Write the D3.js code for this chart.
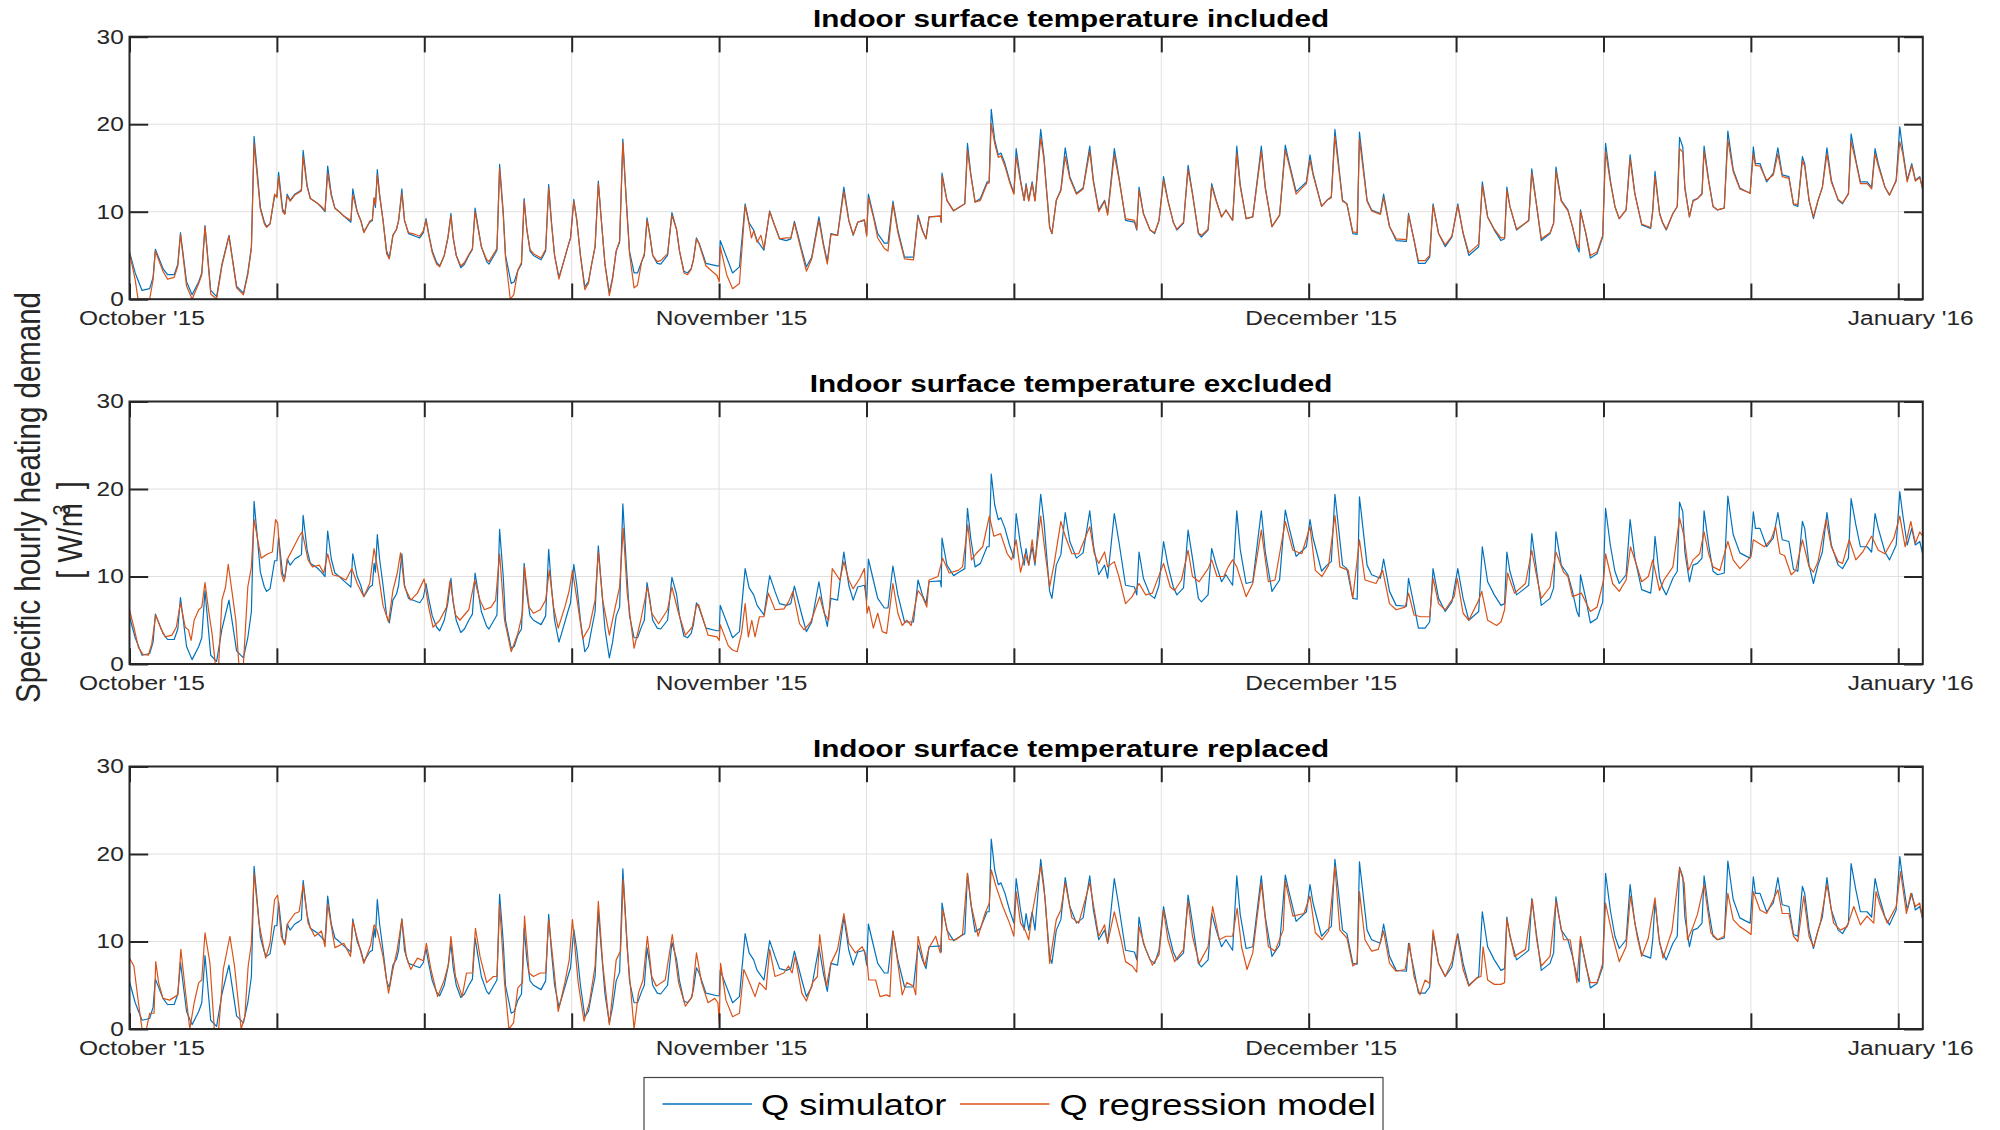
<!DOCTYPE html>
<html><head><meta charset="utf-8">
<script src="https://cdn.jsdelivr.net/npm/d3@7"></script>
<style>body{margin:0;background:#fff;} text{font-family:"Liberation Sans",Arial,Helvetica,sans-serif;}</style>
</head><body><svg id="c" width="2000" height="1130"></svg>
<script>
// ---- data: [day since 1 Oct 2015, W/m3] ----
const monthLabels = ["October '15", "November '15", "December '15", "January '16"];
const panelTitles = ["Indoor surface temperature included", "Indoor surface temperature excluded", "Indoor surface temperature replaced"];
const yTickValues = [0, 10, 20, 30];
const seriesNames = ["Q simulator", "Q regression model"];

const qSimulator = [[0.00,5.4],[0.30,3.0],[0.66,1.0],[1.06,1.2],[1.24,2.5],[1.36,5.7],[1.76,3.5],[2.00,2.8],[2.35,2.8],[2.54,4.0],[2.68,7.6],[3.00,2.0],[3.29,0.5],[3.64,2.0],[3.80,3.0],[3.97,8.4],[4.27,1.0],[4.58,0.3],[4.86,4.0],[5.23,7.3],[5.63,1.5],[5.99,0.7],[6.22,3.0],[6.41,6.0],[6.55,18.6],[6.74,14.0],[6.88,10.5],[7.09,8.8],[7.21,8.3],[7.39,8.6],[7.63,11.8],[7.75,11.8],[7.84,14.5],[8.05,10.3],[8.17,9.8],[8.29,12.0],[8.45,11.3],[8.69,12.0],[8.92,12.3],[9.04,12.5],[9.13,17.0],[9.34,13.0],[9.51,11.5],[9.86,11.0],[10.09,10.5],[10.28,10.0],[10.42,15.2],[10.61,12.0],[10.80,10.4],[11.03,10.0],[11.27,9.5],[11.64,8.8],[11.74,12.6],[11.97,10.0],[12.16,9.0],[12.32,7.7],[12.63,8.8],[12.77,9.0],[12.86,11.5],[12.93,10.5],[13.03,14.8],[13.15,12.0],[13.33,9.0],[13.52,5.5],[13.66,4.7],[13.85,7.3],[14.04,8.0],[14.15,9.0],[14.32,12.6],[14.46,9.0],[14.67,7.5],[15.02,7.2],[15.26,7.0],[15.45,7.6],[15.59,9.2],[15.73,7.5],[15.92,5.5],[16.15,4.2],[16.31,3.8],[16.55,5.0],[16.74,7.0],[16.90,9.8],[17.02,7.0],[17.18,5.0],[17.42,3.6],[17.61,4.0],[17.84,5.0],[18.03,5.7],[18.17,10.4],[18.31,8.5],[18.50,6.0],[18.78,4.3],[18.90,4.0],[19.32,5.6],[19.46,15.4],[19.65,10.0],[19.77,5.0],[20.07,1.8],[20.23,2.0],[20.42,3.3],[20.61,4.0],[20.75,11.5],[20.89,8.0],[21.06,5.5],[21.24,5.0],[21.64,4.5],[21.88,5.5],[22.04,13.1],[22.18,9.0],[22.35,5.0],[22.58,2.5],[22.72,3.5],[23.05,6.0],[23.19,7.0],[23.36,11.4],[23.52,9.0],[23.71,5.0],[23.94,1.4],[24.13,2.0],[24.30,4.0],[24.48,6.0],[24.65,13.5],[24.81,9.0],[25.00,4.0],[25.23,0.7],[25.40,2.5],[25.59,5.5],[25.77,6.5],[25.94,18.3],[26.13,11.0],[26.29,5.5],[26.53,3.0],[26.71,3.0],[26.93,4.3],[27.07,5.0],[27.21,9.3],[27.35,7.5],[27.51,5.0],[27.75,4.1],[27.93,4.0],[28.29,5.0],[28.52,9.9],[28.76,8.0],[28.92,5.5],[29.15,3.2],[29.34,3.0],[29.53,3.5],[29.65,4.5],[29.81,7.0],[29.95,6.4],[30.31,4.1],[30.89,3.8],[31.01,3.8],[31.06,6.7],[31.71,3.0],[32.07,3.7],[32.37,10.9],[32.58,8.7],[32.82,7.9],[33.00,6.7],[33.36,5.6],[33.66,10.1],[33.94,8.3],[34.18,6.9],[34.53,6.7],[34.77,6.9],[34.96,8.9],[35.35,5.6],[35.59,3.7],[35.87,4.8],[36.25,9.4],[36.48,6.4],[36.69,4.3],[36.88,7.5],[37.23,7.3],[37.56,12.8],[37.82,9.0],[38.05,7.3],[38.29,8.8],[38.64,9.0],[38.76,7.3],[38.85,12.0],[39.11,9.6],[39.34,7.5],[39.69,6.4],[39.88,6.4],[40.14,11.2],[40.40,7.9],[40.75,4.8],[41.22,4.8],[41.46,9.6],[41.69,7.9],[41.88,6.9],[42.04,9.4],[42.63,9.5],[42.68,8.8],[42.72,14.4],[42.98,11.3],[43.33,10.1],[43.69,10.6],[43.92,10.9],[44.06,17.8],[44.23,14.4],[44.46,11.1],[44.74,11.5],[45.09,13.4],[45.20,13.4],[45.31,21.7],[45.49,18.2],[45.68,16.5],[45.82,16.7],[46.03,15.5],[46.27,13.6],[46.50,12.1],[46.62,17.2],[46.85,13.6],[47.04,11.3],[47.14,13.2],[47.28,11.3],[47.46,13.4],[47.61,11.3],[47.91,19.4],[48.08,16.3],[48.22,12.5],[48.38,8.3],[48.50,7.5],[48.73,11.3],[48.97,12.5],[49.20,17.3],[49.44,14.0],[49.79,12.1],[50.14,12.7],[50.49,17.5],[50.68,13.6],[50.96,10.2],[51.27,11.3],[51.43,9.8],[51.78,17.2],[52.02,14.0],[52.37,9.0],[52.84,8.8],[52.96,7.9],[53.08,12.8],[53.31,9.8],[53.66,7.9],[53.90,7.5],[54.13,9.0],[54.37,14.0],[54.60,11.3],[54.88,8.8],[55.07,7.9],[55.42,8.7],[55.66,15.3],[55.89,12.1],[56.20,7.5],[56.36,7.1],[56.71,7.9],[56.90,13.2],[57.14,11.3],[57.42,9.4],[57.65,10.2],[58.00,9.0],[58.22,17.5],[58.40,13.1],[58.71,9.2],[59.06,9.4],[59.51,17.5],[59.72,12.8],[60.07,8.3],[60.47,9.6],[60.77,17.6],[60.94,15.9],[61.34,12.3],[61.88,13.4],[62.07,16.5],[62.23,14.4],[62.68,10.6],[62.96,11.3],[63.19,11.7],[63.38,19.4],[63.78,11.3],[64.01,10.9],[64.32,7.5],[64.55,7.4],[64.67,19.1],[65.07,11.3],[65.31,10.2],[65.77,9.8],[65.94,12.0],[66.25,8.3],[66.60,6.7],[67.14,6.6],[67.25,9.8],[67.54,6.7],[67.77,4.1],[68.12,4.1],[68.36,4.8],[68.54,10.9],[68.83,7.5],[69.18,6.0],[69.53,7.1],[69.84,10.9],[70.12,7.5],[70.42,5.0],[70.94,6.0],[71.13,13.4],[71.41,9.4],[71.76,7.9],[72.11,6.7],[72.30,6.9],[72.42,12.8],[72.58,10.6],[72.93,7.9],[73.40,8.7],[73.57,9.0],[73.73,14.9],[73.99,10.6],[74.23,6.7],[74.69,7.5],[74.88,8.7],[75.00,15.1],[75.28,11.3],[75.63,10.2],[75.87,8.3],[76.10,6.0],[76.22,5.4],[76.29,10.2],[76.57,7.5],[76.81,4.7],[77.16,5.2],[77.46,7.1],[77.61,17.8],[77.86,13.6],[78.10,10.6],[78.33,9.2],[78.69,10.2],[78.90,16.5],[79.15,12.1],[79.51,8.5],[79.98,8.1],[80.09,10.2],[80.21,14.6],[80.45,9.8],[80.61,8.7],[80.80,7.9],[81.15,9.8],[81.38,10.6],[81.50,18.5],[81.67,17.4],[81.78,12.8],[82.02,9.4],[82.21,11.3],[82.44,11.5],[82.68,12.1],[82.79,17.5],[83.03,13.6],[83.26,10.6],[83.50,10.2],[83.85,10.4],[84.04,19.2],[84.32,14.8],[84.67,12.7],[85.02,12.3],[85.21,12.1],[85.38,17.4],[85.49,15.5],[85.73,15.5],[86.08,13.4],[86.43,14.4],[86.67,17.3],[86.90,14.2],[87.25,14.0],[87.49,10.8],[87.72,10.6],[87.96,16.3],[88.08,15.5],[88.31,11.3],[88.54,9.2],[88.78,11.3],[89.01,12.8],[89.25,17.3],[89.48,13.6],[89.84,11.3],[90.07,10.9],[90.38,12.1],[90.52,18.9],[90.77,15.9],[91.01,13.4],[91.36,13.4],[91.60,12.8],[91.78,17.2],[91.95,15.5],[92.30,12.8],[92.54,11.9],[92.89,13.6],[93.08,19.7],[93.24,17.0],[93.47,13.6],[93.71,15.5],[93.90,13.6],[94.13,14.0],[94.29,12.5]];

const qRegIncluded = [[0.00,5.3],[0.30,2.2],[0.45,0],[1.06,0],[1.24,2.2],[1.36,5.5],[1.76,3.2],[2.00,2.3],[2.35,2.5],[2.54,3.8],[2.68,7.4],[3.00,1.5],[3.29,0],[3.64,1.8],[3.80,2.8],[3.97,8.3],[4.27,0.6],[4.58,0],[4.86,3.8],[5.23,7.2],[5.63,1.3],[5.99,0.5],[6.22,2.8],[6.41,5.8],[6.55,17.8],[6.74,13.5],[6.88,10.3],[7.09,8.6],[7.21,8.2],[7.39,8.6],[7.63,12.0],[7.75,11.6],[7.84,14.0],[8.05,10.0],[8.17,9.7],[8.29,11.8],[8.45,11.2],[8.69,11.9],[8.92,12.2],[9.04,12.4],[9.13,16.3],[9.34,12.8],[9.51,11.5],[9.86,11.0],[10.09,10.6],[10.28,10.1],[10.42,14.4],[10.61,11.8],[10.80,10.4],[11.03,10.0],[11.27,9.5],[11.64,9.0],[11.74,11.9],[11.97,10.0],[12.16,9.0],[12.32,7.6],[12.63,8.9],[12.77,9.1],[12.86,11.6],[12.93,10.8],[13.03,14.2],[13.15,11.8],[13.33,9.0],[13.52,5.2],[13.66,4.6],[13.85,7.3],[14.04,8.0],[14.15,9.0],[14.32,12.1],[14.46,9.0],[14.67,7.6],[15.02,7.4],[15.26,7.2],[15.45,7.8],[15.59,9.0],[15.73,7.4],[15.92,5.3],[16.15,4.0],[16.31,3.7],[16.55,5.0],[16.74,7.0],[16.90,9.5],[17.02,7.0],[17.18,5.0],[17.42,3.8],[17.61,4.2],[17.84,5.1],[18.03,5.8],[18.17,10.0],[18.31,8.3],[18.50,6.0],[18.78,4.5],[18.90,4.3],[19.32,5.8],[19.46,14.9],[19.65,9.6],[19.77,4.8],[20.02,0],[20.20,0.5],[20.42,3.3],[20.61,4.2],[20.75,11.2],[20.89,8.0],[21.06,5.7],[21.24,5.2],[21.64,4.7],[21.88,5.7],[22.04,12.7],[22.18,8.8],[22.35,5.0],[22.58,2.3],[22.72,3.4],[23.05,6.0],[23.19,7.0],[23.36,11.2],[23.52,9.0],[23.71,5.0],[23.94,1.1],[24.13,1.8],[24.30,4.0],[24.48,6.0],[24.65,13.2],[24.81,9.0],[25.00,4.0],[25.23,0.4],[25.40,2.3],[25.59,5.5],[25.77,6.7],[25.94,17.9],[26.13,10.8],[26.29,5.2],[26.53,1.3],[26.71,1.6],[26.93,4.3],[27.07,5.2],[27.21,9.0],[27.35,7.4],[27.51,5.0],[27.75,4.3],[27.93,4.4],[28.29,5.2],[28.52,9.6],[28.76,8.0],[28.92,5.5],[29.15,3.0],[29.34,2.8],[29.53,3.4],[29.65,4.5],[29.81,6.9],[29.95,6.3],[30.31,3.8],[30.89,2.7],[31.01,2.0],[31.06,6.0],[31.40,2.8],[31.71,1.2],[32.07,1.8],[32.37,10.7],[32.58,8.5],[32.70,7.0],[32.82,7.8],[33.00,6.5],[33.20,7.3],[33.36,5.8],[33.66,10.0],[33.94,8.3],[34.18,6.9],[34.53,7.0],[34.77,7.0],[34.96,8.7],[35.35,5.3],[35.59,3.2],[35.87,4.6],[36.25,9.0],[36.48,6.2],[36.69,4.0],[36.88,7.4],[37.23,7.3],[37.56,12.3],[37.82,9.0],[38.05,7.4],[38.29,8.8],[38.64,9.1],[38.76,7.2],[38.85,11.6],[39.11,9.4],[39.34,7.0],[39.69,5.8],[39.88,5.5],[40.14,10.9],[40.40,7.6],[40.75,4.6],[41.22,4.5],[41.46,9.4],[41.69,7.8],[41.88,6.9],[42.04,9.4],[42.63,9.5],[42.68,8.8],[42.72,14.1],[42.98,11.3],[43.33,10.1],[43.69,10.6],[43.92,10.9],[44.06,17.0],[44.23,14.2],[44.46,11.1],[44.74,11.3],[45.09,13.2],[45.20,13.3],[45.31,20.1],[45.49,17.8],[45.68,16.2],[45.82,16.4],[46.03,15.2],[46.27,13.4],[46.50,12.0],[46.62,16.3],[46.85,13.4],[47.04,11.3],[47.14,13.0],[47.28,11.2],[47.46,13.2],[47.61,11.2],[47.91,18.4],[48.08,16.0],[48.22,12.3],[48.38,8.2],[48.50,7.5],[48.73,11.3],[48.97,12.4],[49.20,16.3],[49.44,13.8],[49.79,12.0],[50.14,12.6],[50.49,16.9],[50.68,13.4],[50.96,10.0],[51.27,11.2],[51.43,9.6],[51.78,16.5],[52.02,13.8],[52.37,9.2],[52.84,9.0],[52.96,8.0],[53.08,12.4],[53.31,9.8],[53.66,7.9],[53.90,7.6],[54.13,9.0],[54.37,13.6],[54.60,11.2],[54.88,8.8],[55.07,8.0],[55.42,8.8],[55.66,14.8],[55.89,12.0],[56.20,7.6],[56.36,7.3],[56.71,8.0],[56.90,12.9],[57.14,11.2],[57.42,9.4],[57.65,10.2],[58.00,9.0],[58.22,16.7],[58.40,12.9],[58.71,9.2],[59.06,9.4],[59.51,16.9],[59.72,12.6],[60.07,8.3],[60.47,9.6],[60.77,17.0],[60.94,15.6],[61.34,12.0],[61.88,13.2],[62.07,15.9],[62.23,14.2],[62.68,10.6],[62.96,11.3],[63.19,11.6],[63.38,18.6],[63.78,11.2],[64.01,10.9],[64.32,7.7],[64.55,7.6],[64.67,18.3],[65.07,11.2],[65.31,10.1],[65.77,9.7],[65.94,11.6],[66.25,8.3],[66.60,6.9],[67.14,6.8],[67.25,9.6],[67.54,6.8],[67.77,4.4],[68.12,4.4],[68.36,5.0],[68.54,10.7],[68.83,7.5],[69.18,6.2],[69.53,7.2],[69.84,10.7],[70.12,7.6],[70.42,5.3],[70.94,6.3],[71.13,13.0],[71.41,9.4],[71.76,8.0],[72.11,7.0],[72.30,7.0],[72.42,12.4],[72.58,10.6],[72.93,8.0],[73.40,8.7],[73.57,9.0],[73.73,14.4],[73.99,10.6],[74.23,6.9],[74.69,7.6],[74.88,8.7],[75.00,14.6],[75.28,11.2],[75.63,10.1],[75.87,8.3],[76.10,6.3],[76.22,5.9],[76.29,10.0],[76.57,7.6],[76.81,5.0],[77.16,5.4],[77.46,7.3],[77.61,16.9],[77.86,13.4],[78.10,10.6],[78.33,9.2],[78.69,10.2],[78.90,16.0],[79.15,12.0],[79.51,8.6],[79.98,8.2],[80.09,10.0],[80.21,14.0],[80.45,9.8],[80.61,8.8],[80.80,8.0],[81.15,9.8],[81.38,10.6],[81.50,17.2],[81.67,16.8],[81.78,12.6],[82.02,9.4],[82.21,11.2],[82.44,11.5],[82.68,12.0],[82.79,16.9],[83.03,13.5],[83.26,10.6],[83.50,10.2],[83.85,10.4],[84.04,18.2],[84.32,14.6],[84.67,12.6],[85.02,12.3],[85.21,12.1],[85.38,16.6],[85.49,15.3],[85.73,15.2],[86.08,13.6],[86.43,14.2],[86.67,16.6],[86.90,14.0],[87.25,13.8],[87.49,10.9],[87.72,10.8],[87.96,15.8],[88.08,15.2],[88.31,11.3],[88.54,9.4],[88.78,11.3],[89.01,12.8],[89.25,16.6],[89.48,13.4],[89.84,11.4],[90.07,11.0],[90.38,12.0],[90.52,18.0],[90.77,15.7],[91.01,13.2],[91.36,13.2],[91.60,12.6],[91.78,16.6],[91.95,15.2],[92.30,12.8],[92.54,11.9],[92.89,13.5],[93.08,18.0],[93.24,16.6],[93.47,13.4],[93.71,15.3],[93.90,13.5],[94.13,13.9],[94.29,12.6]];

const qRegExcluded = [[0.00,6.2],[0.23,4.2],[0.47,1.9],[0.70,1.1],[0.99,1.0],[1.17,2.3],[1.38,5.6],[1.64,4.1],[1.88,3.1],[2.23,3.3],[2.46,4.2],[2.68,7.0],[2.93,4.2],[3.10,3.9],[3.24,2.7],[3.40,5.0],[3.64,6.2],[3.80,6.5],[3.97,9.3],[4.18,5.8],[4.34,3.5],[4.51,0],[4.69,0],[4.86,7.3],[5.05,8.8],[5.19,11.4],[5.40,8.1],[5.59,5.0],[5.75,0],[5.99,0],[6.22,8.8],[6.41,11.1],[6.55,16.5],[6.74,14.2],[6.92,12.1],[7.28,12.6],[7.51,12.8],[7.68,16.5],[7.79,16.1],[7.98,10.4],[8.12,9.4],[8.33,12.1],[8.69,13.6],[8.92,14.6],[9.08,15.1],[9.39,11.9],[9.62,11.1],[9.98,11.3],[10.21,10.4],[10.42,12.6],[10.68,10.2],[11.03,10.0],[11.38,9.6],[11.69,10.9],[11.97,9.2],[12.32,7.7],[12.63,9.2],[12.86,13.2],[13.03,11.1],[13.33,6.7],[13.62,4.8],[13.85,8.4],[14.08,10.4],[14.25,12.7],[14.46,8.8],[14.79,7.3],[15.14,8.1],[15.49,9.7],[15.73,6.5],[15.96,4.2],[16.31,5.0],[16.67,6.5],[16.85,9.5],[17.14,5.6],[17.37,5.0],[17.84,6.2],[18.15,9.6],[18.43,7.3],[18.66,6.2],[19.01,6.5],[19.25,7.3],[19.46,12.6],[19.72,5.0],[20.07,1.4],[20.42,3.5],[20.66,5.8],[20.77,11.1],[21.01,6.5],[21.24,5.8],[21.60,6.2],[21.88,7.3],[22.07,10.7],[22.30,6.5],[22.54,4.1],[22.89,6.5],[23.12,8.4],[23.29,10.7],[23.59,6.5],[23.83,2.9],[24.18,4.2],[24.48,7.3],[24.65,12.8],[24.88,7.3],[25.23,3.3],[25.54,6.5],[25.77,8.8],[25.96,15.5],[26.17,8.1],[26.53,1.8],[26.88,5.0],[27.23,8.8],[27.46,5.8],[27.82,4.6],[28.29,6.2],[28.52,8.8],[28.87,5.8],[29.23,3.3],[29.58,4.2],[29.81,6.7],[29.92,6.8],[30.42,3.3],[30.89,3.1],[31.01,2.7],[31.06,4.5],[31.48,2.1],[31.71,1.6],[31.95,1.4],[32.18,3.5],[32.37,6.9],[32.54,3.1],[32.72,5.0],[32.89,3.1],[33.12,5.4],[33.36,5.4],[33.59,8.1],[33.94,6.2],[34.41,6.3],[34.65,7.1],[34.88,8.3],[35.23,4.6],[35.47,3.9],[35.82,4.8],[36.29,7.7],[36.53,5.8],[36.76,5.0],[36.95,10.9],[37.35,9.6],[37.56,11.7],[37.82,9.6],[38.05,8.6],[38.40,9.8],[38.64,10.9],[38.78,5.8],[38.87,6.6],[39.11,4.1],[39.34,5.8],[39.58,3.7],[39.81,3.5],[40.14,9.2],[40.40,5.8],[40.63,4.4],[40.87,5.0],[41.10,4.4],[41.46,8.4],[41.69,7.7],[41.92,6.5],[42.04,9.6],[42.51,10.0],[42.75,12.1],[43.10,10.4],[43.57,10.7],[43.80,11.1],[44.08,15.9],[44.27,11.9],[44.51,12.6],[44.86,13.4],[45.21,16.9],[45.45,14.6],[45.80,14.9],[46.15,12.6],[46.38,11.9],[46.62,14.2],[46.85,10.5],[47.09,12.6],[47.28,11.3],[47.46,14.2],[47.61,11.6],[47.91,16.9],[48.15,12.6],[48.38,8.8],[48.62,11.5],[48.97,16.3],[49.20,14.6],[49.55,12.6],[49.91,12.6],[50.49,15.7],[50.73,12.6],[50.96,11.5],[51.27,12.8],[51.43,11.1],[51.78,11.7],[52.02,10.0],[52.37,6.9],[52.72,7.7],[53.08,9.2],[53.43,7.9],[53.78,8.1],[54.37,11.5],[54.72,8.8],[54.95,8.4],[55.31,9.6],[55.66,13.0],[55.89,10.0],[56.24,9.4],[56.71,10.9],[56.90,11.9],[57.18,10.0],[57.54,10.0],[57.77,11.1],[58.00,11.9],[58.22,11.1],[58.71,7.7],[59.06,9.2],[59.51,15.3],[59.88,9.4],[60.23,9.6],[60.77,16.3],[61.17,13.0],[61.64,12.6],[62.07,15.7],[62.35,10.7],[62.70,10.0],[63.05,11.3],[63.38,17.0],[63.64,11.1],[64.08,10.7],[64.32,7.5],[64.67,14.2],[64.96,9.6],[65.54,9.2],[65.89,10.7],[66.25,6.9],[66.60,6.2],[67.07,6.5],[67.25,8.1],[67.54,5.6],[67.89,5.4],[68.36,5.4],[68.54,9.8],[68.83,6.9],[69.18,6.2],[69.65,7.7],[69.81,9.8],[70.12,5.8],[70.42,5.0],[70.94,7.3],[71.10,8.3],[71.41,5.0],[71.88,4.4],[72.11,4.8],[72.30,6.2],[72.46,10.4],[72.82,8.1],[73.40,9.2],[73.73,13.0],[73.99,10.0],[74.23,7.5],[74.69,8.8],[75.00,12.8],[75.40,10.5],[75.63,10.0],[75.87,7.7],[76.34,8.1],[76.81,6.0],[77.16,6.5],[77.51,9.6],[77.61,12.6],[77.98,9.2],[78.33,8.3],[78.69,9.6],[78.92,13.4],[79.27,11.1],[79.51,9.4],[79.86,10.0],[80.09,11.9],[80.45,8.4],[80.68,9.6],[81.15,11.1],[81.50,16.7],[81.74,14.6],[81.97,10.7],[82.21,11.9],[82.56,12.6],[82.79,15.1],[83.03,12.6],[83.26,11.1],[83.62,10.7],[84.04,14.0],[84.32,11.9],[84.67,10.9],[85.02,11.7],[85.26,12.3],[85.38,14.2],[85.96,13.4],[86.31,14.2],[86.55,15.7],[86.78,12.6],[87.02,12.4],[87.37,10.2],[87.61,10.7],[87.96,14.2],[88.31,11.1],[88.54,10.5],[88.78,11.7],[89.20,16.5],[89.48,13.4],[89.84,11.7],[90.07,11.5],[90.42,14.2],[90.77,11.9],[91.13,12.8],[91.60,14.6],[91.95,13.0],[92.30,12.6],[92.77,14.4],[93.08,16.9],[93.36,13.4],[93.66,16.3],[93.90,13.8],[94.13,15.1],[94.29,14.6]];

const qRegReplaced = [[0.00,8.1],[0.23,7.2],[0.47,3.0],[0.66,0],[0.89,0],[1.06,1.8],[1.29,1.8],[1.38,7.7],[1.53,5.3],[1.76,3.5],[2.11,3.3],[2.54,3.9],[2.70,9.1],[2.93,4.5],[3.17,0],[3.40,3.0],[3.64,5.3],[3.80,5.6],[3.97,11.0],[4.23,7.5],[4.46,0],[4.69,0],[4.93,6.8],[5.28,10.6],[5.52,7.2],[5.87,0],[6.06,1.4],[6.24,7.2],[6.41,9.8],[6.55,17.8],[6.81,12.1],[7.16,8.1],[7.39,9.8],[7.63,14.8],[7.79,15.3],[7.98,10.6],[8.17,9.6],[8.33,12.1],[8.69,13.2],[8.92,13.4],[9.13,16.5],[9.39,12.1],[9.74,10.6],[10.09,11.2],[10.28,9.4],[10.42,14.3],[10.80,9.3],[11.27,9.8],[11.62,8.3],[11.74,12.3],[12.09,9.4],[12.32,7.5],[12.68,9.6],[12.86,11.9],[13.03,11.2],[13.33,8.3],[13.62,4.1],[13.85,6.8],[14.08,9.1],[14.32,12.5],[14.55,8.3],[14.79,6.8],[15.14,8.1],[15.45,7.8],[15.61,9.8],[15.85,6.8],[16.20,3.7],[16.55,5.6],[16.78,7.5],[16.90,10.6],[17.14,6.0],[17.49,3.7],[17.72,6.4],[18.03,6.4],[18.19,11.5],[18.43,8.3],[18.78,5.3],[19.13,6.0],[19.32,6.0],[19.46,14.2],[19.72,5.3],[19.95,0],[20.19,0.7],[20.42,4.7],[20.66,5.3],[20.77,12.9],[21.01,6.4],[21.24,6.0],[21.60,6.4],[21.88,6.4],[22.04,12.5],[22.30,7.2],[22.54,2.0],[22.89,5.3],[23.12,7.9],[23.29,12.5],[23.59,5.3],[23.90,0.9],[24.18,3.0],[24.48,7.2],[24.65,14.6],[24.88,7.5],[25.23,0.5],[25.59,7.9],[25.82,8.9],[25.96,17.1],[26.17,9.1],[26.53,0],[26.76,4.1],[27.00,5.6],[27.23,10.6],[27.46,6.0],[27.70,4.9],[28.17,5.6],[28.54,10.8],[28.87,5.3],[29.23,2.6],[29.58,3.7],[29.81,8.7],[30.08,5.3],[30.42,3.0],[30.77,3.5],[30.94,3.0],[31.01,0.7],[31.08,7.5],[31.36,3.3],[31.71,1.4],[32.07,1.8],[32.30,6.8],[32.54,5.6],[32.89,3.7],[33.12,5.3],[33.47,4.5],[33.66,9.1],[33.94,6.0],[34.41,6.4],[34.65,7.2],[34.84,6.4],[35.00,8.3],[35.35,4.1],[35.59,3.2],[35.94,5.4],[36.17,6.0],[36.29,10.8],[36.64,4.9],[36.88,7.5],[37.23,9.1],[37.56,13.2],[37.82,9.8],[38.17,8.7],[38.52,9.4],[38.76,8.3],[38.87,5.6],[39.23,5.6],[39.46,3.7],[39.81,3.9],[39.98,3.7],[40.14,11.2],[40.40,7.5],[40.63,3.9],[40.87,5.3],[41.22,4.9],[41.34,3.9],[41.46,10.6],[41.81,7.2],[42.04,9.3],[42.39,10.6],[42.63,8.7],[42.77,13.6],[43.10,10.2],[43.45,10.2],[43.80,10.8],[44.06,17.8],[44.27,14.0],[44.62,10.6],[44.98,13.2],[45.21,14.4],[45.31,18.2],[45.56,16.3],[45.92,14.0],[46.27,12.1],[46.50,10.6],[46.62,15.7],[46.85,12.1],[47.09,11.3],[47.28,10.2],[47.46,13.2],[47.91,18.6],[48.15,14.8],[48.38,7.5],[48.73,12.5],[48.97,13.6],[49.20,16.7],[49.55,12.7],[49.91,12.1],[50.49,16.7],[50.73,13.6],[50.96,10.6],[51.27,11.9],[51.43,9.8],[51.78,13.4],[52.14,10.2],[52.37,7.7],[52.72,7.2],[52.96,6.5],[53.08,11.7],[53.43,9.1],[53.78,7.3],[54.13,8.5],[54.37,13.6],[54.60,10.2],[54.95,7.7],[55.42,9.1],[55.66,14.6],[55.89,10.6],[56.24,7.5],[56.71,9.4],[56.95,14.0],[57.30,10.2],[57.65,10.6],[58.00,10.6],[58.24,13.8],[58.47,9.4],[58.76,6.8],[59.06,8.7],[59.51,16.7],[59.88,9.4],[60.23,8.9],[60.66,11.3],[60.77,16.9],[61.17,12.9],[61.75,13.2],[62.07,15.2],[62.35,11.0],[62.70,10.2],[63.05,11.2],[63.38,18.6],[63.64,11.3],[64.01,10.4],[64.32,7.2],[64.55,7.6],[64.67,15.7],[64.96,10.2],[65.31,8.9],[65.66,9.1],[65.94,11.2],[66.25,7.5],[66.60,6.6],[67.07,6.8],[67.30,9.8],[67.54,6.0],[67.85,3.9],[68.12,5.6],[68.36,5.2],[68.54,11.3],[68.83,7.5],[69.18,6.0],[69.53,7.7],[69.81,10.8],[70.12,6.8],[70.42,4.9],[70.82,5.8],[71.06,6.0],[71.17,9.4],[71.41,5.6],[71.76,5.1],[72.11,5.1],[72.30,5.3],[72.42,12.5],[72.82,8.3],[73.40,9.1],[73.76,14.8],[73.99,10.2],[74.23,7.2],[74.69,8.3],[75.00,14.6],[75.40,10.2],[75.75,10.2],[76.10,5.3],[76.29,10.6],[76.57,7.2],[76.81,5.3],[77.16,5.3],[77.46,7.5],[77.61,14.4],[77.98,10.6],[78.33,7.7],[78.69,9.4],[78.92,15.2],[79.27,10.6],[79.51,8.3],[79.86,10.4],[80.21,15.0],[80.40,10.6],[80.63,8.1],[81.10,11.2],[81.50,18.4],[81.74,16.7],[81.92,10.2],[82.21,11.7],[82.44,13.1],[82.79,16.5],[83.15,11.0],[83.50,10.2],[83.85,10.6],[84.04,15.5],[84.32,12.5],[84.67,11.7],[85.02,11.2],[85.26,10.8],[85.38,15.7],[85.73,13.6],[86.08,13.2],[86.43,14.8],[86.67,15.9],[86.90,13.2],[87.25,13.2],[87.49,10.6],[87.72,10.0],[88.03,15.2],[88.31,10.6],[88.54,9.4],[88.90,12.1],[89.25,16.5],[89.60,12.1],[89.96,11.3],[90.31,11.7],[90.66,14.0],[91.01,11.9],[91.36,12.9],[91.71,12.1],[91.83,15.7],[92.07,14.0],[92.42,12.1],[92.89,14.0],[93.12,18.0],[93.43,13.2],[93.66,15.5],[93.90,14.0],[94.13,14.4],[94.29,12.5]];

const regressionByPanel = [qRegIncluded, qRegExcluded, qRegReplaced];

// ---- drawing ----
const svg = d3.select("#c");
const AX = "#262626", BLUE = "#0072BD", ORANGE = "#D95319", GRID = "#e0e0e0";
const x = d3.scaleLinear().domain([0, 94.29]).range([129.5, 1922.8]);
const xTicks = d3.range(0, 93.001, 7.75);
const panelTops = [36.7, 401.5, 766.5], ph = 262.5;

function stretch(sel, f) {
  sel.each(function () {
    const L = this.getComputedTextLength();
    if (L > 0) d3.select(this).attr("textLength", L * f).attr("lengthAdjust", "spacingAndGlyphs");
  });
}

panelTitles.forEach((title, i) => {
  const top = panelTops[i];
  const y = d3.scaleLinear().domain([0, 30]).range([top + ph, top]);
  const g = svg.append("g");
  const x0 = x.range()[0], x1 = x.range()[1];

  g.selectAll("line.gx").data(xTicks.slice(1)).join("line").attr("class", "gx")
    .attr("x1", d => x(d)).attr("x2", d => x(d)).attr("y1", top).attr("y2", top + ph)
    .attr("stroke", GRID).attr("stroke-width", 1);
  g.selectAll("line.gy").data(yTickValues.slice(1, -1)).join("line").attr("class", "gy")
    .attr("x1", x0).attr("x2", x1).attr("y1", d => y(d)).attr("y2", d => y(d))
    .attr("stroke", GRID).attr("stroke-width", 1);

  const cid = "clip" + i;
  svg.append("clipPath").attr("id", cid).append("rect")
    .attr("x", x0).attr("y", top - 1).attr("width", x1 - x0).attr("height", ph + 1);

  const line = d3.line().x(d => x(d[0])).y(d => y(d[1]));
  const lg = g.append("g").attr("clip-path", `url(#${cid})`);
  lg.append("path").datum(qSimulator).attr("d", line).attr("fill", "none")
    .attr("stroke", BLUE).attr("stroke-width", 1.2).attr("stroke-linejoin", "round");
  lg.append("path").datum(regressionByPanel[i]).attr("d", line).attr("fill", "none")
    .attr("stroke", ORANGE).attr("stroke-width", 1.2).attr("stroke-linejoin", "round");

  const fmt = d => { const k = Math.round(d / 31); return Math.abs(d - 31 * k) < 1e-6 ? monthLabels[k] : ""; };
  const bottom = g.append("g").attr("transform", `translate(0,${top + ph})`)
    .call(d3.axisBottom(x).tickValues(xTicks).tickSizeInner(-15.7).tickSizeOuter(0).tickPadding(12).tickFormat(fmt));
  const topAx = g.append("g").attr("transform", `translate(0,${top})`)
    .call(d3.axisTop(x).tickValues(xTicks).tickSizeInner(-15.7).tickSizeOuter(0).tickFormat(""));
  const left = g.append("g").attr("transform", `translate(${x0},0)`)
    .call(d3.axisLeft(y).tickValues(yTickValues).tickSizeInner(-18.7).tickSizeOuter(0).tickPadding(6));
  const right = g.append("g").attr("transform", `translate(${x1},0)`)
    .call(d3.axisRight(y).tickValues(yTickValues).tickSizeInner(-18.7).tickSizeOuter(0).tickFormat(""));
  [bottom, topAx, left, right].forEach(a => {
    a.select(".domain").remove();
    a.selectAll(".tick line").attr("stroke", AX).attr("stroke-width", 2);
    a.selectAll("text").attr("fill", AX).attr("font-size", 20)
      .attr("font-family", "'Liberation Sans', Arial, sans-serif");
  });
  bottom.selectAll("text").attr("dx", 12);
  stretch(bottom.selectAll("text"), 1.225);
  left.selectAll("text").attr("x", -5.8);
  stretch(left.selectAll("text"), 1.22);

  g.append("rect").attr("x", x0).attr("y", top).attr("width", x1 - x0).attr("height", ph)
    .attr("fill", "none").attr("stroke", AX).attr("stroke-width", 2);

  const t = g.append("text").attr("x", 1071).attr("y", top - 9.5).attr("text-anchor", "middle")
    .attr("font-size", 23).attr("font-weight", "bold").attr("fill", "#000").text(title);
  stretch(t, 1.29);
});

// y label (two lines, rotated; glyphs widened on screen like the reference)
const yl = svg.append("text").attr("transform", "translate(27.5,497.5) scale(1.22,1) rotate(-90)")
  .attr("text-anchor", "middle").attr("dy", "0.35em").attr("font-size", 29).attr("fill", AX)
  .text("Specific hourly heating demand");
yl.attr("textLength", 411).attr("lengthAdjust", "spacingAndGlyphs");
const yl2 = svg.append("text").attr("transform", "translate(70,530) scale(1.22,1) rotate(-90)")
  .attr("text-anchor", "middle").attr("dy", "0.35em").attr("font-size", 29).attr("fill", AX);
yl2.append("tspan").text("[ W/m");
yl2.append("tspan").attr("dx", "-0.62em").attr("dy", "-0.5em").attr("font-size", "0.68em").text("3");
yl2.append("tspan").attr("dx", "0.25em").attr("dy", "0.34em").text(" ]");

// legend
const leg = svg.append("g");
leg.append("rect").attr("x", 644).attr("y", 1077.5).attr("width", 739).attr("height", 80)
  .attr("fill", "#fff").attr("stroke", "#444").attr("stroke-width", 1.2);
const legItems = [{name: seriesNames[0], color: BLUE, lx: 662.5, tx: 761},
                  {name: seriesNames[1], color: ORANGE, lx: 960, tx: 1059.5}];
legItems.forEach(it => {
  leg.append("line").attr("x1", it.lx).attr("x2", it.lx + 89.5).attr("y1", 1104).attr("y2", 1104)
    .attr("stroke", it.color).attr("stroke-width", 1.3);
  const tt = leg.append("text").attr("x", it.tx).attr("y", 1114.5).attr("font-size", 29)
    .attr("fill", "#000").text(it.name);
  stretch(tt, 1.25);
});
</script></body></html>
